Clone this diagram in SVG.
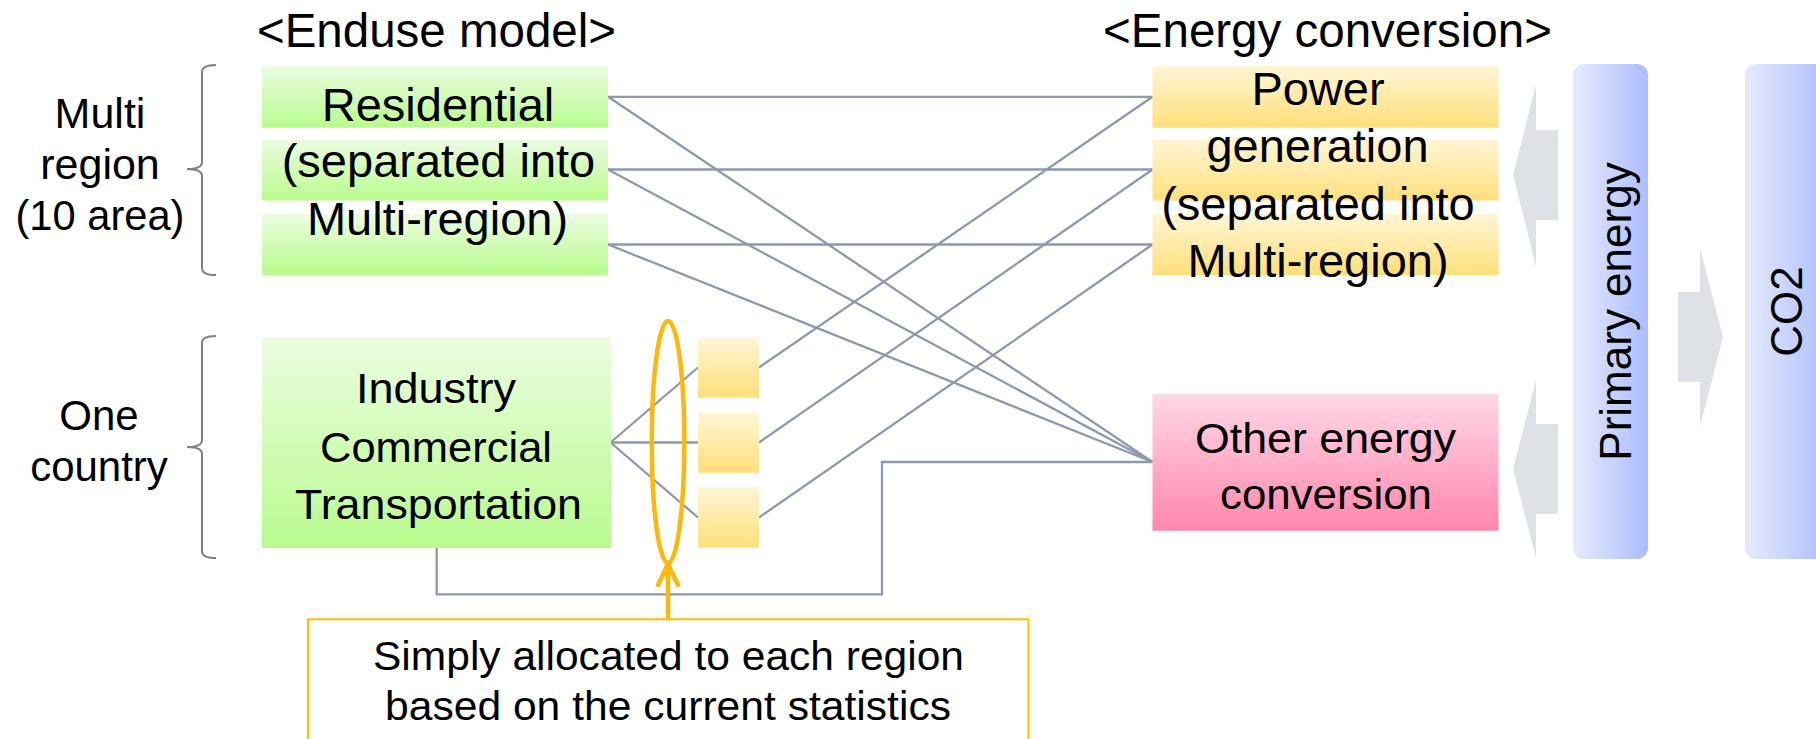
<svg xmlns="http://www.w3.org/2000/svg" width="1816" height="739" viewBox="0 0 1816 739">
  <defs>
    <linearGradient id="gGreen" x1="0" y1="0" x2="0" y2="1">
      <stop offset="0" stop-color="#EBFDE1"/>
      <stop offset="1" stop-color="#B9FB8E"/>
    </linearGradient>
    <linearGradient id="gYellow" x1="0" y1="0" x2="0" y2="1">
      <stop offset="0" stop-color="#FFF6D6"/>
      <stop offset="1" stop-color="#FFDF7A"/>
    </linearGradient>
    <linearGradient id="gPink" x1="0" y1="0" x2="0" y2="1">
      <stop offset="0" stop-color="#FFD8E5"/>
      <stop offset="1" stop-color="#FF86AD"/>
    </linearGradient>
    <linearGradient id="gBlue" x1="0" y1="0" x2="1" y2="0">
      <stop offset="0" stop-color="#E6EBFE"/>
      <stop offset="1" stop-color="#ADBDFD"/>
    </linearGradient>
  </defs>
  <style>
    text { font-family: "Liberation Sans", Arial, sans-serif; fill: #000; }
    .hd { font-size: 47.5px; text-anchor: middle; }
    .lb { font-size: 43px; text-anchor: middle; }
    .bx { font-size: 47px; text-anchor: middle; }
    .ind { font-size: 42px; text-anchor: middle; }
    .note { font-size: 41px; text-anchor: middle; }
    .vt { font-size: 44px; text-anchor: middle; }
    .brace { fill: none; stroke: #7F7F7F; stroke-width: 2; }
    .conn { fill: none; stroke: #8C99AF; stroke-width: 2.3; }
    .flow { fill: #DEE1E6; }
    .hl { fill: none; stroke: #FFB80A; stroke-width: 4.5; stroke-linecap: round; stroke-linejoin: round; }
  </style>

  <rect width="1816" height="739" fill="#FFFFFF"/>

  <!-- column headings -->
  <text class="hd" x="436.5" y="46.7">&lt;Enduse model&gt;</text>
  <text class="hd" x="1327.5" y="46.7">&lt;Energy conversion&gt;</text>

  <!-- group labels with braces -->
  <g id="label-multi-region">
    <text class="lb" x="100" y="127.7">Multi</text>
    <text class="lb" x="100" y="178.5">region</text>
    <text class="lb" x="100" y="230" textLength="169" lengthAdjust="spacingAndGlyphs">(10 area)</text>
    <path class="brace" d="M216,65 Q202,65 202,72 L202,162 Q202,169 187,169 Q202,169 202,176 L202,268 Q202,275 216,275"/>
  </g>
  <g id="label-one-country">
    <text class="lb" x="99" y="430" style="font-size:42px">One</text>
    <text class="lb" x="99" y="480.5" style="font-size:42px">country</text>
    <path class="brace" d="M216,336 Q202,336 202,343 L202,440 Q202,447 187,447 Q202,447 202,454 L202,551 Q202,558 216,558"/>
  </g>

  <!-- connectors -->
  <g id="connectors">
    <path class="conn" d="M608,96.8 H1152.5"/>
    <path class="conn" d="M608,169.5 H1152.5"/>
    <path class="conn" d="M608,244.5 H1152.5"/>
    <path class="conn" d="M608,96.8 L1152.5,462"/>
    <path class="conn" d="M608,169.5 L1152.5,462"/>
    <path class="conn" d="M608,244.5 L1152.5,462"/>
    <path class="conn" d="M759,367.5 L1152.5,96.8"/>
    <path class="conn" d="M759,442.5 L1152.5,169.5"/>
    <path class="conn" d="M759,517.5 L1152.5,244.5"/>
    <path class="conn" d="M610.5,442.5 L698,367.5"/>
    <path class="conn" d="M610.5,442.5 H698"/>
    <path class="conn" d="M610.5,442.5 L698,517.5"/>
    <path class="conn" d="M436.7,548 V594.3 H882 V462 H1152.5"/>
  </g>

  <!-- end-use model -->
  <g id="node-residential">
    <rect x="262" y="66" width="346" height="61.7" fill="url(#gGreen)"/>
    <rect x="262" y="139.5" width="346" height="61" fill="url(#gGreen)"/>
    <rect x="262" y="214" width="346" height="61" fill="url(#gGreen)"/>
    <text class="bx" x="438" y="120.7">Residential</text>
    <text class="bx" x="438.5" y="177">(separated into</text>
    <text class="bx" x="437.5" y="235">Multi-region)</text>
  </g>
  <g id="node-industry">
    <rect x="262" y="337" width="349" height="211" fill="url(#gGreen)"/>
    <text class="ind" x="436" y="403.3" textLength="160" lengthAdjust="spacingAndGlyphs">Industry</text>
    <text class="ind" x="436" y="462.3" textLength="232" lengthAdjust="spacingAndGlyphs">Commercial</text>
    <text class="ind" x="438.5" y="519" textLength="287" lengthAdjust="spacingAndGlyphs">Transportation</text>
  </g>
  <g id="node-allocated">
    <rect x="698" y="337.3" width="61" height="60.4" fill="url(#gYellow)"/>
    <rect x="698" y="412.3" width="61" height="60.4" fill="url(#gYellow)"/>
    <rect x="698" y="487.3" width="61" height="60.4" fill="url(#gYellow)"/>
  </g>

  <!-- energy conversion -->
  <g id="node-power">
    <rect x="1152.5" y="66" width="346" height="61.7" fill="url(#gYellow)"/>
    <rect x="1152.5" y="139.5" width="346" height="61" fill="url(#gYellow)"/>
    <rect x="1152.5" y="214" width="346" height="61" fill="url(#gYellow)"/>
    <text class="bx" x="1318" y="105">Power</text>
    <text class="bx" x="1317.5" y="161.7">generation</text>
    <text class="bx" x="1318" y="220">(separated into</text>
    <text class="bx" x="1318" y="276.7">Multi-region)</text>
  </g>
  <g id="node-other">
    <rect x="1152.5" y="394" width="346" height="136.7" fill="url(#gPink)"/>
    <text class="ind" x="1325.5" y="453" style="font-size:43px" textLength="261" lengthAdjust="spacingAndGlyphs">Other energy</text>
    <text class="ind" x="1326" y="509" style="font-size:43px" textLength="212" lengthAdjust="spacingAndGlyphs">conversion</text>
  </g>

  <!-- flow arrows -->
  <g id="flow-arrows">
    <polygon class="flow" points="1558,130 1536,130 1536,85 1513,175 1536,267 1536,220 1558,220"/>
    <polygon class="flow" points="1558,424 1536,424 1536,380 1513,469 1536,558 1536,514 1558,514"/>
    <polygon class="flow" points="1678,292 1700,292 1700,248 1723,337 1700,427 1700,382 1678,382"/>
  </g>

  <g id="node-primary-energy">
    <rect x="1573" y="64" width="75" height="495" rx="11" fill="url(#gBlue)"/>
    <text class="vt" transform="translate(1631,311.5) rotate(-90)">Primary energy</text>
  </g>
  <g id="node-co2">
    <rect x="1745" y="64" width="84" height="495" rx="11" fill="url(#gBlue)"/>
    <text class="vt" transform="translate(1802,311.5) rotate(-90)">CO2</text>
  </g>

  <!-- allocation note -->
  <g id="node-note">
    <ellipse class="hl" cx="668" cy="442" rx="16.3" ry="121"/>
    <path class="hl" d="M668,619 V565"/>
    <polyline class="hl" points="658,585 668,564 678,585"/>
    <rect x="308" y="619.3" width="720.5" height="140" fill="#FFFFFF" stroke="#FFC000" stroke-width="2"/>
    <text class="note" x="668.5" y="670" textLength="591" lengthAdjust="spacingAndGlyphs">Simply allocated to each region</text>
    <text class="note" x="668" y="720" textLength="566" lengthAdjust="spacingAndGlyphs">based on the current statistics</text>
  </g>
</svg>
